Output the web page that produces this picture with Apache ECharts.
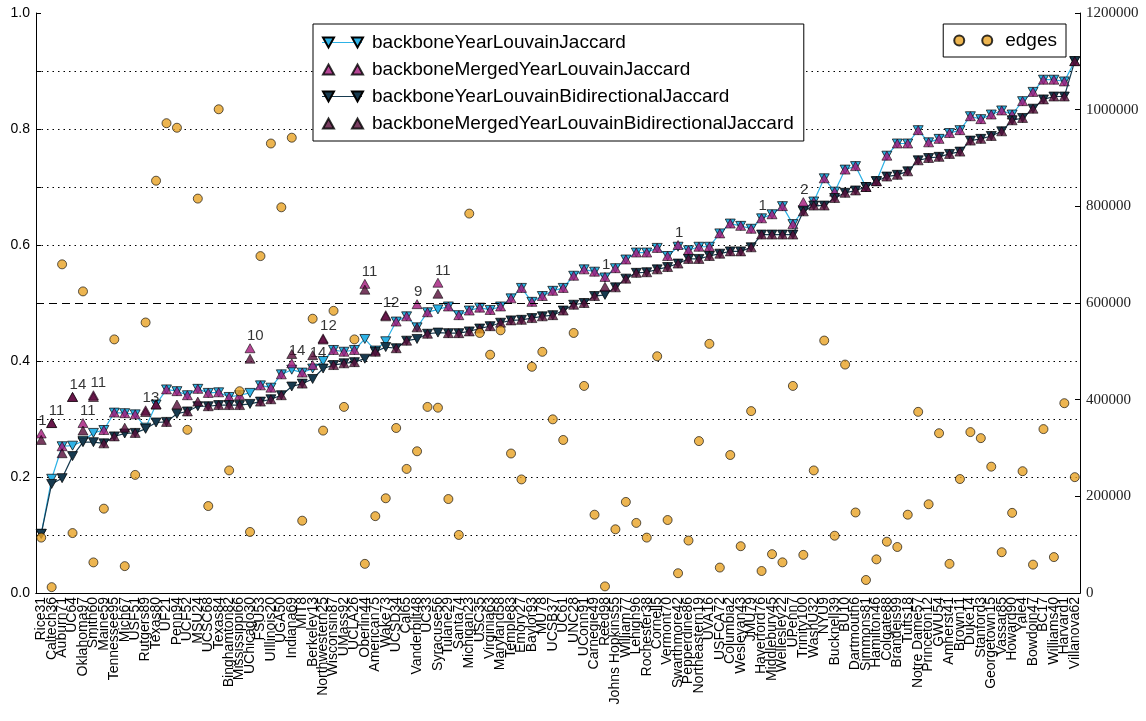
<!DOCTYPE html>
<html>
<head>
<meta charset="utf-8">
<script src="https://cdn.jsdelivr.net/npm/echarts@6/dist/echarts.min.js"></script>
<style>html,body{margin:0;padding:0;background:#fff;}#c{width:1146px;height:721px;}</style>
</head>
<body>
<div id="c"></div>
<script>
const categories = ['Rice31','Caltech36','Auburn71','UC64','Oklahoma97','Smith60','Maine59','Tennessee95','Mich67','USF51',
'Rutgers89','Texas80','UF21','Penn94','UCF52','MSU24','UCSC68','Texas84','Binghamton82','Mississippi66',
'UChicago30','FSU53','UIllinois20','UGA50','Indiana69','MIT8','Berkeley13','Northwestern25','Wisconsin87','UMass92',
'UCLA26','Oberlin44','American75','Wake73','UCSD34','Cal65','Vanderbilt48','UC33','Syracuse56','Tulane29',
'Santa74','Michigan23','USC35','Virginia63','Maryland58','Temple83','Emory27','Baylor93','MU78','UCSB37',
'UC61','UNC28','UConn91','Carnegie49','Reed98','Johns Hopkins55','William77','Lehigh96','Rochester38','Cornell5',
'Vermont70','Swarthmore42','Pepperdine86','Northeastern19','UVA16','USFCA72','Columbia2','Wesleyan43','JMU79','Haverford76',
'Middlebury45','Wellesley22','UPenn7','Trinity100','WashU32','NYU9','Bucknell39','BU10','Dartmouth6','Simmons81',
'Hamilton46','Colgate88','Brandeis99','Tufts18','Notre Dame57','Princeton12','GWU54','Amherst41','Brown11','Duke14',
'Stanford3','Georgetown15','Vassar85','Howard90','Yale4','Bowdoin47','BC17','Williams40','Harvard1','Villanova62'];

const backboneYearLouvainJaccard = [0.102,0.197,0.253,0.254,0.262,0.276,0.281,0.311,0.310,0.308,
0.285,0.325,0.351,0.348,0.341,0.352,0.345,0.346,0.338,0.341,
0.345,0.358,0.354,0.377,0.385,0.380,0.387,0.400,0.419,0.416,
0.419,0.438,0.418,0.434,0.468,0.477,0.458,0.484,0.489,0.494,
0.479,0.487,0.492,0.488,0.494,0.508,0.526,0.502,0.512,0.521,
0.526,0.547,0.558,0.554,0.544,0.560,0.575,0.587,0.587,0.595,
0.581,0.597,0.591,0.597,0.597,0.620,0.637,0.633,0.628,0.646,
0.653,0.667,0.636,0.660,0.675,0.715,0.692,0.730,0.736,0.700,
0.710,0.754,0.775,0.775,0.798,0.777,0.783,0.793,0.798,0.822,
0.817,0.825,0.832,0.825,0.848,0.864,0.885,0.885,0.882,0.917];

const backboneMergedYearLouvainJaccard = [0.275,0.293,0.253,0.338,0.293,0.341,0.281,0.311,0.310,0.308,
0.315,0.325,0.351,0.348,0.341,0.352,0.345,0.346,0.338,0.341,
0.422,0.358,0.354,0.377,0.396,0.380,0.393,0.439,0.419,0.416,
0.419,0.533,0.418,0.479,0.468,0.477,0.498,0.484,0.535,0.494,
0.479,0.487,0.492,0.488,0.494,0.508,0.526,0.502,0.512,0.521,
0.526,0.547,0.558,0.554,0.545,0.560,0.575,0.587,0.587,0.595,
0.581,0.600,0.591,0.597,0.597,0.620,0.637,0.633,0.628,0.646,
0.653,0.667,0.636,0.674,0.675,0.715,0.692,0.730,0.736,0.700,
0.710,0.754,0.775,0.775,0.798,0.777,0.783,0.793,0.798,0.822,
0.817,0.825,0.832,0.825,0.848,0.864,0.885,0.885,0.882,0.917];

const backboneYearLouvainBidirectionalJaccard = [0.102,0.188,0.198,0.236,0.260,0.260,0.258,0.270,0.275,0.276,
0.283,0.294,0.295,0.309,0.313,0.322,0.322,0.324,0.324,0.324,
0.326,0.330,0.334,0.341,0.356,0.361,0.369,0.387,0.393,0.396,
0.398,0.404,0.416,0.424,0.422,0.435,0.438,0.447,0.449,0.448,
0.448,0.451,0.456,0.460,0.466,0.470,0.471,0.474,0.477,0.479,
0.487,0.497,0.500,0.512,0.514,0.527,0.542,0.552,0.553,0.558,
0.562,0.568,0.576,0.576,0.581,0.585,0.589,0.589,0.596,0.618,
0.618,0.618,0.618,0.658,0.668,0.668,0.681,0.690,0.694,0.700,
0.710,0.718,0.721,0.727,0.746,0.750,0.752,0.757,0.761,0.780,
0.783,0.788,0.796,0.815,0.819,0.835,0.851,0.856,0.856,0.917];

const backboneMergedYearLouvainBidirectionalJaccard = [0.264,0.293,0.241,0.338,0.280,0.338,0.258,0.270,0.285,0.276,
0.312,0.325,0.295,0.325,0.313,0.330,0.322,0.324,0.324,0.324,
0.404,0.330,0.334,0.341,0.412,0.361,0.410,0.437,0.393,0.396,
0.398,0.523,0.416,0.477,0.422,0.435,0.458,0.447,0.516,0.448,
0.448,0.451,0.456,0.460,0.466,0.470,0.471,0.474,0.477,0.479,
0.487,0.497,0.500,0.512,0.528,0.527,0.542,0.552,0.553,0.558,
0.562,0.568,0.576,0.576,0.581,0.585,0.589,0.589,0.596,0.618,
0.618,0.618,0.618,0.658,0.668,0.668,0.681,0.690,0.694,0.700,
0.710,0.718,0.721,0.727,0.746,0.750,0.752,0.757,0.761,0.780,
0.783,0.788,0.796,0.815,0.819,0.835,0.851,0.856,0.856,0.917];

const mergedLabels = ['1','11','','14','11','11','','','','',
'13','','','','','','','','','',
'10','','','','14','','14','12','','',
'','11','','12','','','9','','11','',
'','','','','','','','','','',
'','','','','1','','','','','',
'','1','','','','','','','','1',
'','','','2','','','','','','',
'','','','','','','','','','',
'','','','','','','','','',''];

const edges = [114600,12100,680000,124000,624000,63300,174500,524700,55600,244300,
559700,853000,972000,962600,337600,816000,179900,1000800,253600,417500,
126300,697000,930000,798000,942000,149600,567500,336000,583800,385000,
524700,60300,159000,196000,341400,256700,293200,385000,383400,194400,
120100,785000,538000,493000,543500,288600,235000,468000,499000,359300,
316600,538000,428400,162000,13700,131800,188400,145000,114600,489800,
151000,40900,108500,314300,515500,52600,285500,96800,376300,45500,
80400,63400,428400,78900,253600,522300,118500,472600,166600,26900,
69600,106100,95200,162000,374800,183600,330600,60300,235800,332900,
320400,261400,84400,165800,252000,58700,339100,74300,392700,239700];

const leftTicks = [0,0.1,0.2,0.3,0.4,0.5,0.6,0.7,0.8,0.9,1.0];

const cA = '#2db2e6', cB = '#a3187a', cC = '#173a4f', cD = '#560d38', cE = '#e8a224';
const sans = 'Liberation Sans, Arial, Helvetica, sans-serif';
const seriesNames = ['backboneYearLouvainJaccard', 'backboneMergedYearLouvainJaccard',
  'backboneYearLouvainBidirectionalJaccard', 'backboneMergedYearLouvainBidirectionalJaccard'];

// number annotations are attached to the merged (non-bidirectional) points
const mergedData = backboneMergedYearLouvainJaccard.map((v, i) => mergedLabels[i]
  ? {value: v, label: {show: true, formatter: mergedLabels[i], position: 'top', align: 'left',
      offset: [-3, 1], distance: 1, fontSize: 15, color: '#000', fontFamily: sans}}
  : v);

const triDown = 'path://M0,0 L10,0 L5,9 Z';
const iconLineOnly = 'path://M0,4.6 L40,4.6 L40,5.6 L0,5.6 Z';
const iconDown2 = 'path://M0,0 L11,0 L5.5,10 Z M29,0 L40,0 L34.5,10 Z';
const iconUp2 = 'path://M5.5,0 L11,10 L0,10 Z M34.5,0 L40,10 L29,10 Z';
const iconCircles = 'path://M0,5 A5,5 0 1,0 10,5 A5,5 0 1,0 0,5 Z M28,5 A5,5 0 1,0 38,5 A5,5 0 1,0 28,5 Z';

const legendBase = {
  orient: 'vertical', left: 313, top: 24, borderRadius: 0,
  padding: [9, 10, 8, 9],
  itemWidth: 40, itemHeight: 10, itemGap: 8
};

const chart = echarts.init(document.getElementById('c'), null, {renderer: 'canvas'});
chart.setOption({
  animation: false,
  backgroundColor: '#fff',
  grid: {left: 36, right: 66, top: 13, bottom: 128},
  legend: [Object.assign({}, legendBase, {
    z: 10,
    backgroundColor: '#fff', borderColor: '#000', borderWidth: 1,
    textStyle: {fontSize: 19, fontFamily: sans, color: '#000', padding: [0, 0, 0, 5], lineHeight: 19},
    data: [
      {name: seriesNames[0], icon: iconLineOnly, itemStyle: {color: cA, borderWidth: 0}},
      {name: seriesNames[1], icon: iconLineOnly, itemStyle: {opacity: 0, borderWidth: 0}},
      {name: seriesNames[2], icon: iconLineOnly, itemStyle: {color: cC, borderWidth: 0}},
      {name: seriesNames[3], icon: iconLineOnly, itemStyle: {opacity: 0, borderWidth: 0}}
    ]
  }), Object.assign({}, legendBase, {
    z: 11,
    backgroundColor: 'transparent', borderWidth: 0,
    textStyle: {fontSize: 19, fontFamily: sans, color: 'rgba(0,0,0,0)', padding: [0, 0, 0, 5], lineHeight: 19},
    data: [
      {name: seriesNames[0], icon: iconDown2},
      {name: seriesNames[1], icon: iconUp2},
      {name: seriesNames[2], icon: iconDown2},
      {name: seriesNames[3], icon: iconUp2}
    ]
  }), {
    orient: 'vertical', right: 80, top: 24, z: 10,
    backgroundColor: '#fff', borderColor: '#000', borderWidth: 1, borderRadius: 0,
    padding: [7, 9, 7, 10],
    itemWidth: 38, itemHeight: 10,
    textStyle: {fontSize: 19, fontFamily: sans, color: '#000', padding: [0, 0, 0, 8], lineHeight: 19},
    data: [{name: 'edges', icon: iconCircles}]
  }],
  xAxis: [{
    type: 'category', data: categories, boundaryGap: true, position: 'bottom',
    axisLine: {lineStyle: {color: '#000', width: 1}},
    axisTick: {inside: true, alignWithLabel: true, length: 5, interval: 0, lineStyle: {color: '#000'}},
    axisLabel: {interval: 0, rotate: 90, fontSize: 14, fontFamily: sans, color: '#000', margin: 4},
    splitLine: {show: false}
  }, {
    type: 'category', data: categories, boundaryGap: true, position: 'top',
    axisLine: {lineStyle: {color: '#000', width: 1}},
    axisTick: {inside: true, alignWithLabel: true, length: 5, interval: 0, lineStyle: {color: '#000'}},
    axisLabel: {show: false}, splitLine: {show: false}
  }],
  yAxis: [{
    type: 'value', min: 0, max: 1, interval: 0.1, position: 'left',
    axisLine: {show: true, lineStyle: {color: '#000'}},
    axisTick: {show: true, inside: true, length: 5, lineStyle: {color: '#000'}},
    axisLabel: {fontSize: 14, fontFamily: sans, color: '#000', margin: 6,
      formatter: v => (Math.round(v * 10) % 2 === 0 ? v.toFixed(1) : '')},
    splitLine: {show: true, lineStyle: {type: [1.5, 4],
      color: leftTicks.map(t => (t === 0 || t === 0.5 || t === 1.0) ? 'rgba(0,0,0,0)' : '#000'), width: 1}}
  }, {
    type: 'value', min: 0, max: 1200000, interval: 200000, position: 'right',
    axisLine: {show: true, lineStyle: {color: '#000'}},
    axisTick: {show: true, inside: true, length: 5, lineStyle: {color: '#000'}},
    axisLabel: {fontSize: 15, fontFamily: 'Liberation Serif, Times New Roman, serif', color: '#222', margin: 6,
      formatter: v => String(v)},
    splitLine: {show: false}
  }],
  series: [{
    name: seriesNames[0], type: 'line', data: backboneYearLouvainJaccard,
    symbol: triDown, symbolSize: [10, 9], z: 2,
    lineStyle: {color: cA, width: 1.2},
    itemStyle: {color: cA, borderColor: '#000', borderWidth: 0.7},
    markLine: {silent: true, symbol: ['none', 'none'], label: {show: false},
      lineStyle: {color: '#000', type: [8, 5], width: 1.2}, data: [{yAxis: 0.5}]}
  }, {
    name: seriesNames[1], type: 'scatter', data: mergedData,
    symbol: 'triangle', symbolSize: [10, 9], z: 3,
    itemStyle: {color: cB, borderColor: '#000', borderWidth: 0.7}
  }, {
    name: seriesNames[2], type: 'line', data: backboneYearLouvainBidirectionalJaccard,
    symbol: triDown, symbolSize: [10, 9], z: 4,
    lineStyle: {color: cC, width: 1.2},
    itemStyle: {color: cC, borderColor: '#000', borderWidth: 0.7}
  }, {
    name: seriesNames[3], type: 'scatter', data: backboneMergedYearLouvainBidirectionalJaccard,
    symbol: 'triangle', symbolSize: [10, 9], z: 5,
    itemStyle: {color: cD, borderColor: '#000', borderWidth: 0.7}
  }, {
    name: 'edges', type: 'scatter', yAxisIndex: 1, data: edges,
    symbol: 'circle', symbolSize: 9, z: 6,
    itemStyle: {color: cE, borderColor: '#000', borderWidth: 0.8}
  }]
});
</script>
</body>
</html>
